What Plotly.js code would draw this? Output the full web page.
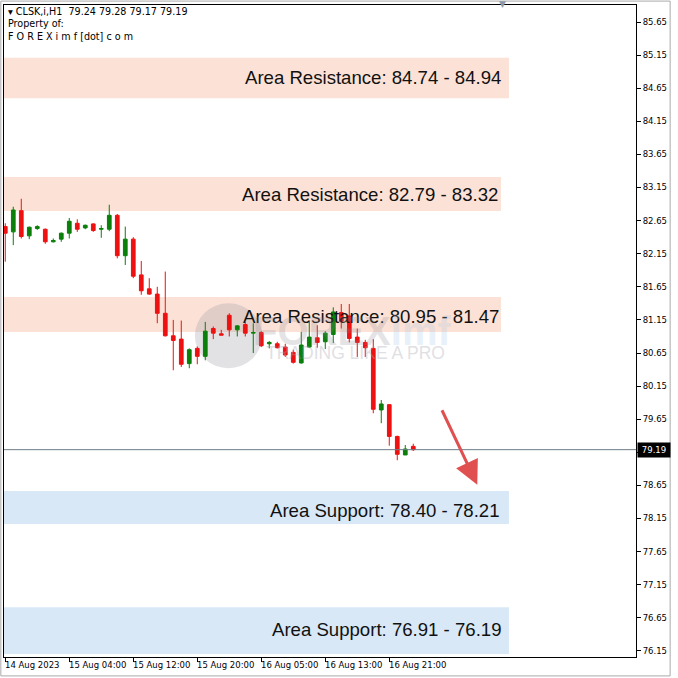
<!DOCTYPE html>
<html>
<head>
<meta charset="utf-8">
<script src="https://cdn.plot.ly/plotly-3.0.1.min.js"></script>
<style>
html,body{margin:0;padding:0;background:#fff;}
#chart{width:678px;height:678px;}
</style>
</head>
<body>
<div id="chart"></div>
<script>
// ---- data ----
const symbol = 'CLSK,i,H1';
const barIdx = [];
const opens  = [82.56,82.48,82.80,82.42,82.53,82.52,82.33,82.37,82.46,82.61,82.54,82.60,82.52,82.52,82.73,82.12,82.37,81.83,81.62,81.54,81.25,80.91,80.86,80.49,80.72,80.60,81.02,80.94,81.22,81.00,81.08,80.95,80.96,80.79,80.79,80.74,80.66,80.50,80.74,80.88,80.82,80.93,81.26,81.21,80.89,80.81,80.72,79.79,79.87,79.39,79.11,79.24];
const highs  = [82.61,82.86,82.98,82.56,82.58,82.53,82.38,82.47,82.69,82.67,82.59,82.61,82.58,82.89,82.75,82.56,82.40,82.04,81.78,81.65,81.88,81.15,81.14,80.72,80.75,81.12,81.05,81.00,81.25,81.07,81.12,81.10,80.98,80.83,80.82,80.79,80.70,80.97,81.12,81.07,80.98,81.34,81.39,81.39,81.02,80.85,80.86,79.94,79.88,79.40,79.26,79.28];
const lows   = [82.03,82.28,82.38,82.37,82.51,82.30,82.32,82.33,82.38,82.48,82.52,82.48,82.39,82.49,82.08,81.98,81.78,81.53,81.53,81.10,80.90,80.39,80.44,80.42,80.48,80.54,80.86,80.92,80.90,80.90,80.90,80.65,80.74,80.72,80.72,80.59,80.49,80.49,80.73,80.73,80.71,80.80,81.02,80.81,80.59,80.59,79.74,79.59,79.25,79.03,79.11,79.17];
const closes = [82.46,82.81,82.41,82.55,82.56,82.33,82.35,82.46,82.64,82.52,82.58,82.50,82.53,82.73,82.12,82.37,81.81,81.59,81.54,81.25,80.91,80.84,80.48,80.70,80.60,80.98,80.95,80.92,81.00,81.06,80.95,80.96,80.76,80.81,80.73,80.62,80.51,80.77,80.89,80.81,80.95,81.27,81.13,80.87,80.81,80.73,79.80,79.88,79.39,79.12,79.20,79.19];
for (let i = 0; i < opens.length; i++) barIdx.push(i);

const xTickIdx  = [0, 8, 16, 24, 32, 40, 48];
const xTickText = ['14 Aug 2023','15 Aug 04:00','15 Aug 12:00','15 Aug 20:00','16 Aug 05:00','16 Aug 13:00','16 Aug 21:00'];
const yTickVals = [76.15,76.65,77.15,77.65,78.15,78.65,79.15,79.65,80.15,80.65,81.15,81.65,82.15,82.65,83.15,83.65,84.15,84.65,85.15,85.65];

const zoneLabels = ['Area Resistance: 84.74 - 84.94','Area Resistance: 82.79 - 83.32','Area Resistance: 80.95 - 81.47','Area Support: 78.40 - 78.21','Area Support: 76.91 - 76.19'];
const zoneLow    = [84.50, 82.795, 80.967, 78.067, 76.105];
const zoneHigh   = [85.11, 83.31, 81.496, 78.565, 76.81];
const zoneEndBar = [62.96, 61.96, 61.96, 62.96, 62.96];
const zoneType   = ['res','res','res','sup','sup'];

const lastPrice = 79.19;
const headerText = '79.24 79.28 79.17 79.19';

// ---- layout ----
const X0 = -0.16, X1 = 78.84;
const smallFont = {family:'DejaVu Sans', size:8.5, color:'#000'};
// label placement (pixel-tuned)
const labelRightBar = [62.2, 61.85, 61.95, 61.95, 62.2];
const labelYShift   = [0, -1, -2, -3, 1];

const shapes = [];
const annotations = [];
zoneLabels.forEach((lab, i) => {
  shapes.push({type:'rect', layer:'below', xref:'x', yref:'y', x0:X0, x1:zoneEndBar[i], y0:zoneLow[i], y1:zoneHigh[i],
    fillcolor: zoneType[i]==='res' ? '#fce2d6' : '#d8e8f7', line:{width:0}});
  annotations.push({xref:'x', yref:'y', x:labelRightBar[i], y:(zoneLow[i]+zoneHigh[i])/2, xanchor:'right', yanchor:'middle',
    yshift:labelYShift[i], text:lab, showarrow:false, font:{family:'Liberation Sans', size:18.6, color:'#111'}});
});
// watermark
shapes.push({type:'circle', layer:'below', xref:'x', yref:'y', x0:23.7, x1:32.1, y0:80.42, y1:81.40,
  fillcolor:'rgba(150,150,162,0.28)', line:{width:0}});
annotations.push({xref:'x', yref:'y', x:43.3, y:80.98, showarrow:false, opacity:0.22,
  text:"<b>FOREX<span style='color:#9cc3e6'>imf</span></b>", font:{family:'Liberation Sans', size:40, color:'#8a8a96'}});
annotations.push({xref:'x', yref:'y', x:43.8, y:80.65, showarrow:false, opacity:0.35,
  text:'TRADING LIKE A PRO', font:{family:'Liberation Sans', size:17.5, color:'#a8a8b4'}});

// last price line
shapes.push({type:'line', xref:'paper', yref:'y', x0:0, x1:1, y0:lastPrice, y1:lastPrice, line:{color:'#6f7d88', width:1}});
// outer frame
shapes.push({type:'rect', xref:'paper', yref:'paper', x0:-0.005, x1:1.054, y0:-0.029, y1:1.006, line:{color:'#a9a9a9', width:1}});

// price label
annotations.push({xref:'paper', yref:'y', x:1, y:lastPrice, xanchor:'left', yanchor:'middle', xshift:1,
  text:lastPrice.toFixed(2), showarrow:false, bgcolor:'#000', borderpad:2, width:28, align:'center',
  font:{family:'DejaVu Sans', size:8.5, color:'#fff'}});
// x tick labels
xTickIdx.forEach((xi, k) => {
  annotations.push({xref:'x', yref:'paper', x:xi, y:0, xanchor:'left', yanchor:'top', yshift:-1, xshift:-2,
    text:xTickText[k], showarrow:false, font:smallFont});
});
// header
annotations.push({xref:'paper', yref:'paper', x:0, y:1, xanchor:'left', yanchor:'top', xshift:2, yshift:1,
  text:'▾ ' + symbol + '  ' + headerText + '<br>Property of:<br>F O R E X i m f [dot] c o m', align:'left',
  showarrow:false, font:{family:'DejaVu Sans', size:9.6, color:'#000'}});
// top small marker
annotations.push({xref:'paper', yref:'paper', x:0.797, y:1.0, yanchor:'middle', yshift:1, text:'▼', showarrow:false,
  font:{family:'DejaVu Sans', size:9, color:'#8d9aa6'}});
// red arrow
annotations.push({xref:'x', yref:'y', x:59.0, y:78.66, ax:-36, ay:-76, text:'', showarrow:true,
  arrowhead:2, arrowsize:1.6, arrowwidth:3, arrowcolor:'#e05050'});

const trace = {
  type:'candlestick', x:barIdx, open:opens, high:highs, low:lows, close:closes,
  increasing:{line:{color:'#0a7f0a', width:1}, fillcolor:'#0a7f0a'},
  decreasing:{line:{color:'#ee1111', width:1}, fillcolor:'#ee1111'},
  whiskerwidth:0, hoverinfo:'skip', showlegend:false
};

const layout = {
  width:678, height:678,
  margin:{l:4, r:42, t:5, b:21},
  paper_bgcolor:'#fff', plot_bgcolor:'#fff',
  boxgap:0.34,
  showlegend:false,
  xaxis:{range:[X0, X1], rangeslider:{visible:false}, showgrid:false, zeroline:false,
    showline:true, mirror:true, linecolor:'#000', linewidth:1,
    tickmode:'array', tickvals:xTickIdx, ticks:'outside', ticklen:4, tickcolor:'#000', showticklabels:false, fixedrange:true},
  yaxis:{range:[76.058, 85.907], side:'right', showgrid:false, zeroline:false,
    showline:true, mirror:true, linecolor:'#000', linewidth:1,
    tickmode:'array', tickvals:yTickVals,
    ticktext:yTickVals.map(v => Math.abs(v - lastPrice) < 0.1 ? '' : v.toFixed(2)),
    ticks:'outside', ticklen:4, tickcolor:'#000', tickfont:smallFont, fixedrange:true},
  shapes:shapes,
  annotations:annotations
};

Plotly.newPlot('chart', [trace], layout, {displayModeBar:false, staticPlot:true});
</script>
</body>
</html>
